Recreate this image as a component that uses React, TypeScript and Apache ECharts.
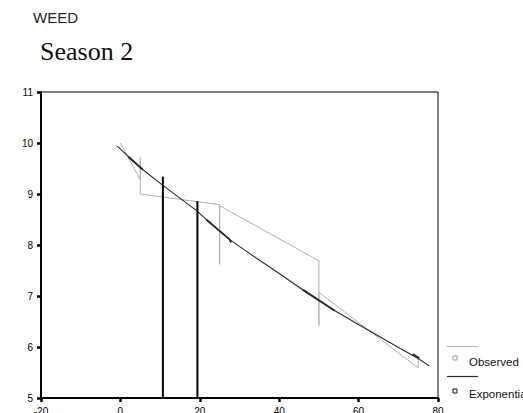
import React, { useEffect, useRef } from "react";
import * as echarts from "echarts";

// Observed data (in plotted order)
const obsX = [0, 5, 5, 5, 25, 25, 25, 50, 50, 50, 75, 75];
const obsY = [10.0, 9.28, 9.72, 9.0, 8.79, 7.62, 8.77, 7.69, 6.42, 7.07, 5.59, 5.8];

// Exponential fitted curve
const expX = [-0.8, 4.8, 10.7, 19.1, 22.5, 27.5, 31.3, 34.3, 40.2, 46.9, 50.3, 53.6, 60.4, 70.5, 74.7, 77.8];
const expY = [9.94, 9.53, 9.17, 8.68, 8.44, 8.11, 7.9, 7.74, 7.43, 7.07, 6.9, 6.73, 6.42, 5.97, 5.79, 5.63];

// thicker overlapping pieces of the fitted curve
const thickSegments: number[][][] = [
  [[2.0, 9.73], [5.6, 9.48]],
  [[21.6, 8.5], [27.5, 8.11], [27.9, 8.05]],
  [[46.0, 7.12], [54.0, 6.71]],
  [[73.6, 5.86], [75.3, 5.78]],
];

// vertical bold lines
const vLineX = [10.7, 19.4];
const vLineTop = [9.34, 8.86];
const vLineBottom = [5, 5];

const xTicks = { min: -20, max: 80, interval: 20 };
const yTicks = { min: 5, max: 11, interval: 1 };

const titleText = "WEED";
const subtitleText = "Season 2";
const legendNames = ["Observed", "Exponential"];

const GREY = "#b0b0b0";
const DARK = "#2a2a2a";

export default function App() {
  const ref = useRef<HTMLDivElement>(null);
  useEffect(() => {
    if (!ref.current) return;
    const chart = echarts.init(ref.current, undefined, { renderer: "svg" });
    const font = "'Liberation Sans', Arial, sans-serif";
    const series: any[] = [
      {
        name: legendNames[0],
        type: "line",
        data: obsX.map((x, i) => [x, obsY[i]]),
        showSymbol: false,
        symbol: "none",
        lineStyle: { color: GREY, width: 1 },
        z: 2,
      },
      {
        name: legendNames[1],
        type: "line",
        data: expX.map((x, i) => [x, expY[i]]),
        showSymbol: false,
        symbol: "none",
        lineStyle: { color: DARK, width: 1.1 },
        z: 3,
      },
      ...thickSegments.map((seg) => ({
        type: "line",
        data: seg,
        symbol: "none",
        lineStyle: { color: DARK, width: 1.9 },
        z: 3,
      })),
      ...vLineX.map((x, i) => ({
        type: "line",
        data: [
          [x, vLineTop[i]],
          [x, vLineBottom[i]],
        ],
        symbol: "none",
        lineStyle: { color: "#000", width: 2 },
        z: 4,
      })),
    ];
    const lx1 = 447;
    const lx2 = 478;
    chart.setOption({
      animation: false,
      backgroundColor: "#fff",
      grid: {
        left: 41,
        right: 85,
        top: 92,
        bottom: 15,
        containLabel: false,
        outerBoundsMode: "none",
        show: true,
        borderColor: "#000",
        borderWidth: 1,
        backgroundColor: "transparent",
      },
      xAxis: {
        type: "value",
        min: xTicks.min,
        max: xTicks.max,
        interval: xTicks.interval,
        splitLine: { show: false },
        axisLine: { show: true, onZero: false, lineStyle: { color: "#000", width: 2 } },
        axisTick: { show: true, length: 4, lineStyle: { color: "#000", width: 2.5 } },
        axisLabel: { color: "#000", fontSize: 10, fontFamily: font, margin: 8 },
      },
      yAxis: {
        type: "value",
        min: yTicks.min,
        max: yTicks.max,
        interval: yTicks.interval,
        splitLine: { show: false },
        axisLine: { show: true, onZero: false, lineStyle: { color: "#000", width: 2 } },
        axisTick: { show: true, length: 4, lineStyle: { color: "#000", width: 2.5 } },
        axisLabel: { color: "#000", fontSize: 10, fontFamily: font, margin: 8 },
      },
      series,
      graphic: [
        {
          type: "text",
          left: 33,
          top: 10,
          style: { text: titleText, font: `15px ${font}`, fill: "#222" },
        },
        {
          type: "text",
          left: 40,
          top: 38,
          style: { text: subtitleText, font: `26px 'Liberation Serif', 'Times New Roman', serif`, fill: "#111" },
        },
        {
          type: "line",
          shape: { x1: lx1, y1: 346.5, x2: lx2, y2: 346.5 },
          style: { stroke: GREY, lineWidth: 1 },
        },
        {
          type: "rect",
          shape: { x: 453, y: 356, width: 4, height: 4 },
          style: { fill: "#fff", stroke: "#999", lineWidth: 1 },
        },
        {
          type: "text",
          x: 469,
          y: 361.5,
          style: { text: legendNames[0], font: `11.5px ${font}`, fill: "#111", verticalAlign: "middle" },
        },
        {
          type: "line",
          shape: { x1: lx1, y1: 376.5, x2: lx2, y2: 376.5 },
          style: { stroke: DARK, lineWidth: 1.2 },
        },
        {
          type: "rect",
          shape: { x: 453, y: 389, width: 4, height: 4 },
          style: { fill: "#fff", stroke: "#111", lineWidth: 1 },
        },
        {
          type: "text",
          x: 469,
          y: 393.5,
          style: { text: legendNames[1], font: `11.5px ${font}`, fill: "#111", verticalAlign: "middle" },
        },
      ],
    });
    return () => chart.dispose();
  }, []);
  return (
    <div
      ref={ref}
      style={{ position: "fixed", left: 0, top: 0, width: 523, height: 413, overflow: "hidden" }}
    />
  );
}
